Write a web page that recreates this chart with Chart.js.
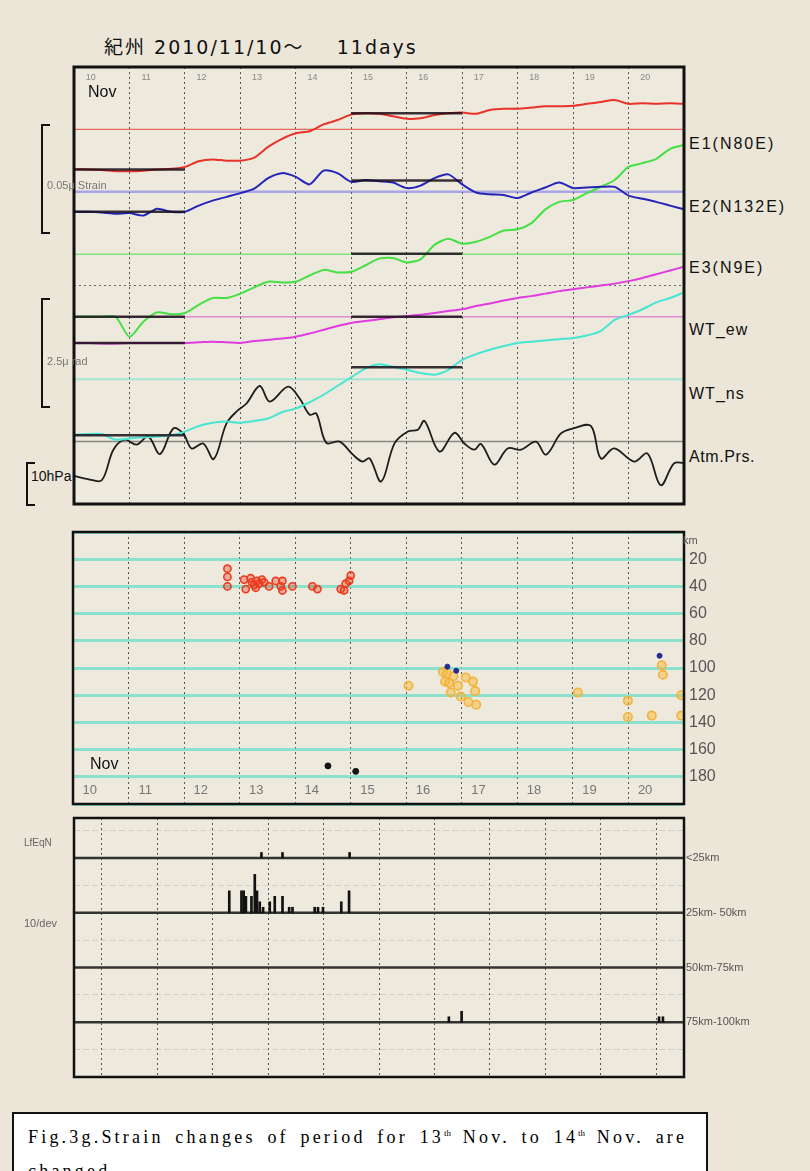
<!DOCTYPE html>
<html>
<head>
<meta charset="utf-8">
<script src="https://cdn.jsdelivr.net/npm/chart.js@4.4.0/dist/chart.umd.min.js"></script>
<style>
  body { margin: 0; width: 810px; height: 1171px; background: #ebe6d8; position: relative; overflow: hidden;
         font-family: "Liberation Sans", Arial, sans-serif; }
  .t { position: absolute; white-space: nowrap; line-height: 1; }
  .panel { position: absolute; }
  .br { position: absolute; border: 2px solid #111; border-right: none; width: 7px; }
  .caption { position: absolute; left: 12px; top: 1112px; width: 696px; height: 90px; background: #fff;
             border: 2px solid #111; font-family: "Liberation Serif", "DejaVu Serif", serif; font-size: 18px;
             letter-spacing: 3.2px; word-spacing: 4px; padding: 6px 0 0 14px; box-sizing: border-box; line-height: 34px; }
  .caption sup { font-size: 9px; letter-spacing: 0; vertical-align: 7px; line-height: 0; }
</style>
</head>
<body>

<div class="t" style="left:104px;top:38px;font-family:'DejaVu Sans','Noto Sans CJK JP',sans-serif;font-size:19px;letter-spacing:2px;color:#111;">紀州 2010/11/10～&nbsp;&nbsp;&nbsp; 11days</div>

<div class="panel" style="left:72px;top:65px;width:614px;height:441px;"><canvas id="strain"></canvas></div>
<div class="panel" style="left:71px;top:530px;width:663px;height:276px;"><canvas id="depth"></canvas></div>
<div class="panel" style="left:72px;top:816px;width:702px;height:263px;"><canvas id="count"></canvas></div>

<!-- strain panel annotations -->
<div class="t" style="left:88px;top:84px;font-size:16px;color:#111;">Nov</div>
<div class="t" style="left:689px;top:136px;font-size:16px;letter-spacing:2px;color:#111;">E1(N80E)</div>
<div class="t" style="left:689px;top:199px;font-size:16px;letter-spacing:2px;color:#111;">E2(N132E)</div>
<div class="t" style="left:689px;top:260px;font-size:16px;letter-spacing:2px;color:#111;">E3(N9E)</div>
<div class="t" style="left:689px;top:322px;font-size:16px;letter-spacing:1px;color:#111;">WT_ew</div>
<div class="t" style="left:689px;top:386px;font-size:16px;letter-spacing:1px;color:#111;">WT_ns</div>
<div class="t" style="left:689px;top:449px;font-size:16px;letter-spacing:0.6px;color:#111;">Atm.Prs.</div>

<div class="br" style="left:41px;top:124px;height:106px;"></div>
<div class="br" style="left:41px;top:298px;height:106px;"></div>
<div class="br" style="left:26px;top:462px;height:40px;"></div>
<div class="t" style="left:47px;top:180px;font-size:11px;color:#777;">0.05μ Strain</div>
<div class="t" style="left:47px;top:356px;font-size:11px;color:#777;">2.5μ rad</div>
<div class="t" style="left:31px;top:469px;font-size:14px;color:#111;">10hPa</div>

<!-- depth / count panel annotations -->
<div class="t" style="left:90px;top:756px;font-size:16px;color:#111;">Nov</div>
<div class="t" style="left:683px;top:535px;font-size:11px;color:#555;">km</div>
<div class="t" style="left:24px;top:838px;font-size:10px;color:#666;">LfEqN</div>
<div class="t" style="left:24px;top:918px;font-size:11px;color:#666;">10/dev</div>

<div class="caption">Fig.3g.Strain changes of period for 13<sup>th</sup> Nov. to 14<sup>th</sup> Nov. are<br>changed.</div>

<script>
// time axis, days in November
const days = [10, 10.25, 10.5, 10.75, 11, 11.25, 11.5, 11.75, 12, 12.25, 12.5, 12.75, 13, 13.25, 13.5, 13.75,
  14, 14.25, 14.5, 14.75, 15, 15.25, 15.5, 15.75, 16, 16.25, 16.5, 16.75, 17, 17.25, 17.5, 17.75, 18, 18.25,
  18.5, 18.75, 19, 19.25, 19.5, 19.75, 20, 20.25, 20.5, 20.75, 21];
const dayLabels = [10, 11, 12, 13, 14, 15, 16, 17, 18, 19, 20];

// strain traces, in panel divisions (each trace sits on its own offset)
const e1 = [5.36, 5.36, 5.35, 5.33, 5.33, 5.34, 5.36, 5.37, 5.40, 5.49, 5.52, 5.50, 5.50, 5.55, 5.72, 5.85,
  5.94, 5.97, 6.08, 6.15, 6.24, 6.26, 6.25, 6.21, 6.17, 6.18, 6.23, 6.26, 6.27, 6.25, 6.31, 6.33, 6.33, 6.35,
  6.37, 6.37, 6.38, 6.41, 6.44, 6.47, 6.41, 6.42, 6.41, 6.42, 6.41];
const e2 = [4.68, 4.68, 4.67, 4.65, 4.66, 4.62, 4.73, 4.68, 4.68, 4.78, 4.86, 4.92, 4.98, 5.05, 5.22, 5.30,
  5.24, 5.12, 5.34, 5.30, 5.16, 5.19, 5.17, 5.15, 5.06, 5.10, 5.22, 5.28, 5.12, 4.99, 4.96, 4.95, 4.90, 4.99,
  5.07, 5.15, 5.06, 5.07, 5.08, 5.08, 4.94, 4.89, 4.84, 4.78, 4.72];
const e3 = [3.00, 3.00, 3.00, 3.00, 2.68, 2.92, 3.07, 3.04, 3.06, 3.19, 3.30, 3.30, 3.37, 3.47, 3.56, 3.55,
  3.56, 3.66, 3.75, 3.71, 3.72, 3.82, 3.93, 3.94, 3.87, 3.92, 4.15, 4.25, 4.17, 4.20, 4.28, 4.38, 4.40, 4.50,
  4.72, 4.84, 4.87, 4.98, 5.08, 5.19, 5.40, 5.46, 5.53, 5.69, 5.75];
const wtEw = [2.58, 2.58, 2.57, 2.57, 2.58, 2.58, 2.58, 2.58, 2.58, 2.59, 2.60, 2.59, 2.58, 2.61, 2.63, 2.65,
  2.68, 2.73, 2.79, 2.85, 2.90, 2.93, 2.96, 2.99, 3.01, 3.03, 3.06, 3.09, 3.12, 3.17, 3.21, 3.26, 3.30, 3.33,
  3.37, 3.41, 3.44, 3.47, 3.50, 3.53, 3.57, 3.62, 3.68, 3.74, 3.80];
const wtNs = [1.11, 1.12, 1.12, 1.03, 1.05, 1.07, 1.08, 1.10, 1.16, 1.25, 1.30, 1.32, 1.30, 1.33, 1.37, 1.47,
  1.53, 1.63, 1.75, 1.89, 2.03, 2.17, 2.24, 2.20, 2.15, 2.10, 2.07, 2.15, 2.31, 2.40, 2.47, 2.53, 2.58, 2.60,
  2.62, 2.64, 2.66, 2.70, 2.77, 2.95, 3.03, 3.12, 3.23, 3.30, 3.39];

// atmospheric pressure (own time stamps, turning points)
const atmDays = [10.0, 10.25, 10.5, 10.71, 10.92, 11.13, 11.34, 11.55, 11.79, 11.97, 12.12, 12.33, 12.52, 12.75,
  12.93, 13.11, 13.35, 13.53, 13.86, 14.07, 14.25, 14.37, 14.55, 14.79, 15.03, 15.2, 15.33, 15.54, 15.78, 16.02,
  16.2, 16.32, 16.59, 16.86, 17.04, 17.22, 17.34, 17.58, 17.82, 18.06, 18.33, 18.51, 18.78, 19.0, 19.32, 19.5,
  19.74, 20.1, 20.34, 20.58, 20.82, 21.0];
const atm = [0.45, 0.40, 0.38, 0.87, 1.03, 0.95, 1.08, 0.80, 1.21, 1.13, 0.89, 0.97, 0.72, 1.29, 1.48, 1.61,
  1.89, 1.64, 1.88, 1.69, 1.43, 1.45, 0.98, 1.00, 0.79, 0.68, 0.73, 0.36, 0.97, 1.16, 1.19, 1.33, 0.84, 1.14,
  0.97, 0.87, 0.96, 0.63, 0.89, 0.87, 1.00, 0.79, 1.13, 1.21, 1.25, 0.73, 0.89, 0.68, 0.81, 0.30, 0.65, 0.66];

// reference levels and the two averaging windows (E1, E2, E3, WT_ew, WT_ns)
const refLevels = [6, 5, 4, 3, 2, 1];
const beforeWin = [10, 12];
const afterWin = [15, 17];
const baseBefore = [5.36, 4.68, 3.00, 2.58, 1.10];
const baseAfter = [6.26, 5.18, 4.01, 3.00, 2.19];

// hypocentres: day, depth (km)
const shallowDays = [12.78, 12.78, 12.78, 13.08, 13.11, 13.2, 13.22, 13.26, 13.29, 13.31, 13.35, 13.4, 13.44,
  13.53, 13.65, 13.74, 13.77, 13.77, 13.95, 14.31, 14.4, 14.82, 14.88, 14.91, 14.97, 15.0];
const shallowDepth = [27, 33, 40, 35, 42, 34, 37, 39, 41, 36, 38, 35, 37, 40, 36, 40, 36, 43, 40, 40, 42, 42, 43,
  38, 36, 32];
const deepDays = [16.04, 16.66, 16.7, 16.73, 16.77, 16.8, 16.85, 16.93, 16.98, 17.07, 17.12, 17.2, 17.24, 17.26,
  19.09, 19.99, 19.99, 20.42, 20.95, 20.95, 20.6, 20.62];
const deepDepth = [113, 103, 110, 104, 111, 118, 106, 113, 121, 107, 125, 110, 117, 127, 118, 124, 136, 135, 120,
  135, 98, 105];
const blueDays = [16.74, 16.9, 20.56];
const blueDepth = [99, 102, 91];
const blackDays = [14.59, 15.09];
const blackDepth = [172, 176];
const depthTicks = [20, 40, 60, 80, 100, 120, 140, 160, 180];

// LF event counts per distance band
const binNames = ['<25km', '25km- 50km', '50km-75km', '75km-100km'];
const binLevels = [40, 30, 20, 10];
const lt25Days = [13.38, 13.76, 14.97];
const lt25Count = [1, 1, 1];
const b25Days = [12.8, 13.02, 13.06, 13.1, 13.2, 13.26, 13.3, 13.35, 13.41, 13.53, 13.62, 13.76, 13.88, 13.94,
  14.34, 14.4, 14.49, 14.82, 14.96];
const b25Count = [4, 4, 4, 3, 3, 7, 4, 2, 1, 2, 3, 3, 1, 1, 1, 1, 1, 2, 4];
const b75Days = [16.76, 16.99, 20.55, 20.62];
const b75Count = [1, 2, 1, 1];

const pts = (xs, ys) => xs.map((x, i) => ({ x, y: ys[i] }));
const flat = (y, [a, b]) => [{ x: a, y }, { x: b, y }];

// keep the plot boxes exactly where the divs put them
const noPad = (s) => { s.paddingTop = 0; s.paddingBottom = 0; s.paddingLeft = 0; s.paddingRight = 0; };

// box frame, paper fill and the small day numbers
const frame = {
  id: 'frame',
  beforeDraw(chart) {
    const { ctx, chartArea: a } = chart;
    ctx.save();
    ctx.fillStyle = '#ede9dd';
    ctx.fillRect(a.left, a.top, a.width, a.height);
    ctx.restore();
  },
  afterDraw(chart, args, opts) {
    const { ctx, chartArea: a, scales: { x } } = chart;
    ctx.save();
    if (opts.labelY != null) {
      ctx.font = opts.font;
      ctx.fillStyle = opts.color;
      ctx.textAlign = 'center';
      ctx.textBaseline = 'middle';
      dayLabels.forEach(d => ctx.fillText(String(d), x.getPixelForValue(d + 0.3), a.top + opts.labelY));
    }
    ctx.lineWidth = opts.width;
    ctx.strokeStyle = '#111';
    ctx.strokeRect(a.left, a.top, a.width, a.height);
    ctx.restore();
  }
};

const xAxis = {
  type: 'linear', min: 10, max: 21,
  afterFit: noPad,
  ticks: { display: false, stepSize: 1 },
  grid: { color: '#555', lineWidth: 1, drawTicks: false },
  border: { display: false, dash: [2, 3] }
};

const BASE = {
  responsive: true,
  maintainAspectRatio: false,
  animation: false,
  events: [],
  plugins: { legend: { display: false }, tooltip: { enabled: false } }
};

// strain panel
const traceColors = ['#e8322a', '#2424b8', '#44e044', '#e03ce0', '#46e6d2'];
const refColors = ['rgba(232,60,50,0.75)', 'rgba(110,110,235,0.55)', 'rgba(80,225,80,0.7)',
  'rgba(215,80,205,0.6)', 'rgba(100,228,205,0.55)', 'rgba(70,70,70,0.6)'];
const refWidths = [1.2, 2.5, 1.5, 1.5, 2, 1.5];
const traces = [e1, e2, e3, wtEw, wtNs];

const strainSets = [];
refLevels.forEach((lv, i) => strainSets.push({
  data: flat(lv, [10, 21]), borderColor: refColors[i], borderWidth: refWidths[i], order: 3
}));
traces.forEach((tr, i) => strainSets.push({
  data: pts(days, tr), borderColor: traceColors[i], borderWidth: 2, tension: 0.25, order: 2
}));
strainSets.push({ data: pts(atmDays, atm), borderColor: '#1c1c1c', borderWidth: 1.8, tension: 0.35, order: 2 });
baseBefore.forEach(lv => strainSets.push({
  data: flat(lv, beforeWin), borderColor: 'rgba(25,15,25,0.85)', borderWidth: 2.5, order: 1
}));
baseAfter.forEach(lv => strainSets.push({
  data: flat(lv, afterWin), borderColor: 'rgba(25,15,25,0.85)', borderWidth: 2.5, order: 1
}));

new Chart(document.getElementById('strain'), {
  type: 'line',
  data: { datasets: strainSets },
  options: {
    ...BASE,
    layout: { padding: 2, autoPadding: false },
    elements: { point: { radius: 0 } },
    plugins: { ...BASE.plugins, frame: { width: 3, labelY: 11, font: '9px "Liberation Sans"', color: '#888' } },
    scales: {
      x: xAxis,
      y: {
        min: 0, max: 7,
        afterFit: noPad,
        ticks: { display: false, stepSize: 3.5 },
        grid: { color: '#666', drawTicks: false },
        border: { display: false, dash: [2, 3] }
      }
    }
  },
  plugins: [frame]
});

// hypocentre depth panel
new Chart(document.getElementById('depth'), {
  type: 'scatter',
  data: {
    datasets: [
      { data: pts(blueDays, blueDepth), backgroundColor: '#2a2a90', borderColor: '#2a2a90', pointRadius: 2.5 },
      { data: pts(blackDays, blackDepth), backgroundColor: '#151515', borderColor: '#151515', pointRadius: 3 },
      { data: pts(shallowDays, shallowDepth), backgroundColor: 'rgba(240,60,30,0.35)', borderColor: '#ee3a1e',
        borderWidth: 1.6, pointRadius: 3.6 },
      { data: pts(deepDays, deepDepth), backgroundColor: 'rgba(245,185,60,0.5)', borderColor: '#f3b23a',
        borderWidth: 1.6, pointRadius: 4.2 }
    ]
  },
  options: {
    ...BASE,
    layout: { padding: { left: 2, top: 2, bottom: 2, right: 0 }, autoPadding: false },
    plugins: { ...BASE.plugins, frame: { width: 2.5, labelY: 258, font: '13px "Liberation Sans"', color: '#777' } },
    scales: {
      x: xAxis,
      y: {
        reverse: true, min: 0, max: 200, position: 'right',
        afterFit: (s) => { noPad(s); s.width = 50; },
        afterBuildTicks: (s) => { s.ticks = [0, ...depthTicks, 200].map(v => ({ value: v })); },
        ticks: {
          padding: 5, color: '#555', font: { size: 16, family: '"Liberation Sans"' },
          callback: (v) => depthTicks.includes(v) ? String(v) : ''
        },
        grid: { color: 'rgba(105,220,200,0.75)', lineWidth: 3, drawTicks: false },
        border: { display: false }
      }
    }
  },
  plugins: [frame]
});

// LF event count panel
const countSets = [];
binLevels.forEach(lv => countSets.push({
  type: 'line', data: flat(lv, [10, 21]), borderColor: '#333', borderWidth: 2.5, pointRadius: 0, order: 2
}));
[[lt25Days, lt25Count, 40], [b25Days, b25Count, 30], [b75Days, b75Count, 10]].forEach(([ds, cs, lv]) => {
  countSets.push({
    type: 'bar', data: ds.map((d, i) => ({ x: d, y: [lv, lv + cs[i]] })),
    backgroundColor: '#111', barThickness: 2, grouped: false, order: 1
  });
});

new Chart(document.getElementById('count'), {
  data: { datasets: countSets },
  options: {
    ...BASE,
    layout: { padding: { left: 2, top: 2, bottom: 2, right: 0 }, autoPadding: false },
    plugins: { ...BASE.plugins, frame: { width: 2.5 } },
    scales: {
      x: { ...xAxis, offset: false },
      y: {
        min: 0, max: 47.3, position: 'right',
        afterFit: (s) => { noPad(s); s.width = 90; },
        afterBuildTicks: (s) => { s.ticks = [0, 5, 10, 15, 20, 25, 30, 35, 40, 45].map(v => ({ value: v })); },
        ticks: {
          padding: 2, color: '#555', font: { size: 11, family: '"Liberation Sans Narrow", "Liberation Sans"' },
          callback: (v) => binLevels.includes(v) ? binNames[binLevels.indexOf(v)] : ''
        },
        grid: { color: 'rgba(150,150,150,0.3)', drawTicks: false },
        border: { display: false, dash: [6, 3] }
      }
    }
  },
  plugins: [frame]
});
</script>
</body>
</html>
